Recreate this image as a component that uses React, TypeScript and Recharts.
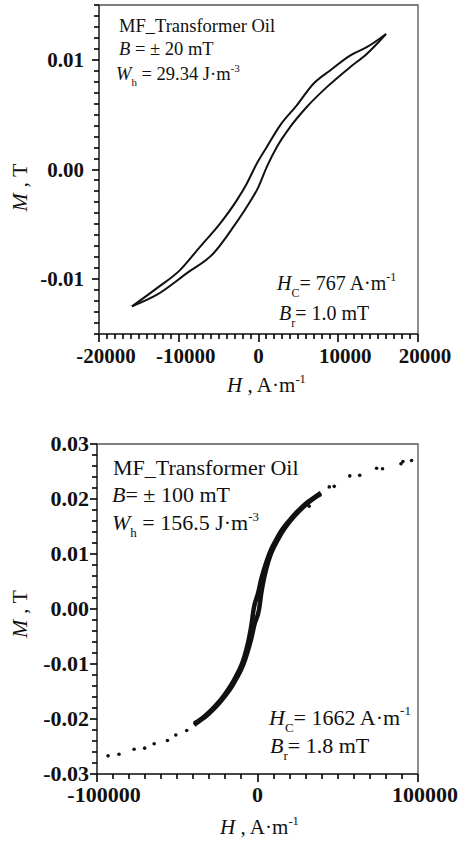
import React from "react";
import { ComposedChart, Line, Scatter, XAxis, YAxis, ReferenceArea, Label } from "recharts";

const SERIF = '"Liberation Serif", "Times New Roman", serif';
const INK = "#111";
const AXIS = "#333";

// upper panel, B = ±20 mT
const topDescending = [
  { h: 15990, m: 0.01236 },
  { h: 13570, m: 0.01115 },
  { h: 11480, m: 0.01039 },
  { h: 8980, m: 0.00903 },
  { h: 6890, m: 0.00782 },
  { h: 4800, m: 0.00585 },
  { h: 2710, m: 0.00403 },
  { h: 1040, m: 0.00206 },
  { h: -210, m: 0.00055 },
  { h: -1460, m: -0.00127 },
  { h: -2710, m: -0.00279 },
  { h: -4800, m: -0.00491 },
  { h: -7310, m: -0.00703 },
  { h: -9810, m: -0.00915 },
  { h: -12730, m: -0.01082 },
  { h: -15870, m: -0.01248 },
];
const topAscending = [
  { h: -15870, m: -0.01248 },
  { h: -12730, m: -0.01142 },
  { h: -8980, m: -0.00945 },
  { h: -5640, m: -0.00764 },
  { h: -3130, m: -0.00521 },
  { h: -1460, m: -0.00339 },
  { h: 0, m: -0.00158 },
  { h: 1040, m: 0.00024 },
  { h: 2300, m: 0.00206 },
  { h: 3970, m: 0.00388 },
  { h: 6050, m: 0.0057 },
  { h: 8560, m: 0.00751 },
  { h: 11480, m: 0.00933 },
  { h: 13570, m: 0.01054 },
  { h: 15990, m: 0.01236 },
];

// lower panel, B = ±100 mT
const bottomDescending = [
  { h: 39500, m: 0.0211 },
  { h: 35500, m: 0.0203 },
  { h: 31500, m: 0.0195 },
  { h: 27200, m: 0.0184 },
  { h: 23100, m: 0.0172 },
  { h: 19000, m: 0.0158 },
  { h: 14400, m: 0.014 },
  { h: 11300, m: 0.0124 },
  { h: 8800, m: 0.011 },
  { h: 6800, m: 0.0096 },
  { h: 4700, m: 0.0078 },
  { h: 2400, m: 0.0055 },
  { h: 300, m: 0.0028 },
  { h: -2400, m: 0 },
  { h: -3700, m: -0.0028 },
  { h: -5400, m: -0.0055 },
  { h: -7300, m: -0.0078 },
  { h: -9200, m: -0.0096 },
  { h: -11200, m: -0.011 },
  { h: -13700, m: -0.0124 },
  { h: -16800, m: -0.014 },
  { h: -21000, m: -0.0158 },
  { h: -24900, m: -0.0172 },
  { h: -28800, m: -0.0184 },
  { h: -32900, m: -0.0195 },
  { h: -36500, m: -0.0203 },
  { h: -39500, m: -0.0208 },
];
const bottomAscending = [
  { h: -39500, m: -0.0211 },
  { h: -35900, m: -0.0203 },
  { h: -32100, m: -0.0195 },
  { h: -28000, m: -0.0184 },
  { h: -24100, m: -0.0172 },
  { h: -20200, m: -0.0158 },
  { h: -15800, m: -0.014 },
  { h: -12700, m: -0.0124 },
  { h: -10200, m: -0.011 },
  { h: -8200, m: -0.0096 },
  { h: -6200, m: -0.0078 },
  { h: -4000, m: -0.0055 },
  { h: -1900, m: -0.0028 },
  { h: 1000, m: 0 },
  { h: 2300, m: 0.0028 },
  { h: 4000, m: 0.0055 },
  { h: 5900, m: 0.0078 },
  { h: 7800, m: 0.0096 },
  { h: 9800, m: 0.011 },
  { h: 12300, m: 0.0124 },
  { h: 15400, m: 0.014 },
  { h: 19800, m: 0.0158 },
  { h: 23900, m: 0.0172 },
  { h: 28000, m: 0.0184 },
  { h: 32300, m: 0.0195 },
  { h: 36000, m: 0.0203 },
  { h: 39500, m: 0.0209 },
];
const bottomSparse = [
  { h: -93100, m: -0.0267 },
  { h: -86300, m: -0.0264 },
  { h: -76900, m: -0.0255 },
  { h: -70300, m: -0.0253 },
  { h: -64400, m: -0.0245 },
  { h: -56100, m: -0.0239 },
  { h: -50900, m: -0.0229 },
  { h: -44100, m: -0.0221 },
  { h: 32200, m: 0.0187 },
  { h: 44700, m: 0.0222 },
  { h: 47800, m: 0.0223 },
  { h: 57500, m: 0.0242 },
  { h: 63700, m: 0.0243 },
  { h: 74200, m: 0.0256 },
  { h: 77900, m: 0.0255 },
  { h: 89400, m: 0.0264 },
  { h: 90600, m: 0.0268 },
  { h: 96000, m: 0.027 },
];

const topXMajor = [-20000, -10000, 0, 10000, 20000];
const topYMajor = [-0.01, 0, 0.01];
const bottomXMajor = [-100000, 0, 100000];
const bottomYMajor = [-0.03, -0.02, -0.01, 0, 0.01, 0.02, 0.03];

// minor tick positions
const steps = (from: number, to: number, step: number) => {
  const out: number[] = [];
  const n = Math.round((to - from) / step);
  for (let i = 0; i <= n; i++) out.push(Math.round((from + i * step) * 1e6) / 1e6);
  return out;
};

const isMajor = (list: number[], v: number) => list.some((m) => Math.abs(m - v) < 1e-9);

// tick marks: short for minor, long + label for major
const xTick = (majors: number[], fontSize: number, gap: number) => (props: any) => {
  const { x, y, payload } = props;
  const v = payload.value;
  const major = isMajor(majors, v);
  const mark = <path d={`M${Math.round(x)},${y}v${major ? 8 : 5}`} stroke="#000" strokeWidth={1.6} fill="none" />;
  if (!major) return mark;
  return (
    <g>
      {mark}
      <text x={x + (v === 0 ? 0 : 7)} y={y + gap} textAnchor="middle" fontFamily={SERIF} fontWeight="bold" fontSize={fontSize} fill={INK}>
        {String(v)}
      </text>
    </g>
  );
};

const yTick = (majors: number[], fontSize: number, gap: number) => (props: any) => {
  const { x, y, payload } = props;
  const v = payload.value;
  const major = isMajor(majors, v);
  const mark = <path d={`M${x},${Math.round(y)}h${major ? -7 : -5}`} stroke="#000" strokeWidth={1.6} fill="none" />;
  if (!major) return mark;
  return (
    <g>
      {mark}
      <text x={x - gap} y={y + 7} textAnchor="end" fontFamily={SERIF} fontWeight="bold" fontSize={fontSize} fill={INK}>
        {v.toFixed(2)}
      </text>
    </g>
  );
};

const HTitle = ({ viewBox, dx, dy, size }: any) => (
  <text x={viewBox.x + viewBox.width / 2 + dx} y={viewBox.y + dy} textAnchor="middle" fontFamily={SERIF} fontSize={size} fill={INK}>
    <tspan fontStyle="italic">H</tspan> , A·m
    <tspan fontSize={size * 0.6} dy={-9}>-1</tspan>
  </text>
);

const MTitle = ({ viewBox, dy, size }: any) => (
  <text
    transform={`translate(27,${viewBox.y + viewBox.height / 2 + dy}) rotate(-90)`}
    textAnchor="middle"
    fontFamily={SERIF}
    fontSize={size}
    fill={INK}
  >
    <tspan fontStyle="italic">M</tspan> , T
  </text>
);

const dot = (p: any) => <circle cx={p.cx} cy={p.cy} r={1.8} fill={INK} />;

function TopPanel() {
  return (
    <div style={{ position: "relative", width: 461, height: 400 }}>
      <ComposedChart width={461} height={400} margin={{ top: 5, right: 43, bottom: 0, left: 0 }}>
        <XAxis
          type="number"
          dataKey="h"
          domain={[-20000, 20000]}
          ticks={steps(-20000, 20000, 1000)}
          interval={0}
          allowDataOverflow
          height={66}
          tickSize={0}
          tickMargin={0}
          tickLine={false}
          axisLine={{ stroke: AXIS, strokeWidth: 1.3 }}
          tick={xTick(topXMajor, 21, 29)}
        >
          <Label content={(p: any) => <HTitle {...p} dx={8} dy={58} size={21} />} />
        </XAxis>
        <YAxis
          type="number"
          dataKey="m"
          domain={[-0.015, 0.015]}
          ticks={steps(-0.015, 0.015, 0.001)}
          interval={0}
          allowDataOverflow
          width={99}
          tickSize={0}
          tickMargin={0}
          tickLine={false}
          axisLine={{ stroke: AXIS, strokeWidth: 1.3 }}
          tick={yTick(topYMajor, 21, 15)}
        >
          <Label content={(p: any) => <MTitle {...p} dy={18} size={22} />} />
        </YAxis>
        <ReferenceArea x1={-20000} x2={20000} y1={-0.015} y2={0.015} fill="none" stroke="#555" strokeWidth={1.3} />
        <Line data={topDescending} dataKey="m" type="monotone" stroke={INK} strokeWidth={2} dot={false} isAnimationActive={false} />
        <Line data={topAscending} dataKey="m" type="monotone" stroke={INK} strokeWidth={2} dot={false} isAnimationActive={false} />
      </ComposedChart>
      <svg width={461} height={400} style={{ position: "absolute", left: 0, top: 0, pointerEvents: "none" }} fontFamily={SERIF} fill={INK}>
        <text x={119} y={32} fontSize={18.5}>MF_Transformer Oil</text>
        <text x={119} y={55} fontSize={18.5}>
          <tspan fontStyle="italic">B</tspan> = ± 20 mT
        </text>
        <text x={116} y={80} fontSize={18.5}>
          <tspan fontStyle="italic">W</tspan>
          <tspan fontSize={11} dy={6}>h</tspan>
          <tspan dy={-6}> = 29.34 J·m</tspan>
          <tspan fontSize={11} dy={-8}>-3</tspan>
        </text>
        <text x={277} y={290} fontSize={20}>
          <tspan fontStyle="italic">H</tspan>
          <tspan fontSize={12} dy={7}>C</tspan>
          <tspan dy={-7}>= 767 A·m</tspan>
          <tspan fontSize={12} dy={-9}>-1</tspan>
        </text>
        <text x={279} y={320} fontSize={20}>
          <tspan fontStyle="italic">B</tspan>
          <tspan fontSize={12} dy={7}>r</tspan>
          <tspan dy={-7}>= 1.0 mT</tspan>
        </text>
      </svg>
    </div>
  );
}

function BottomPanel() {
  return (
    <div style={{ position: "relative", width: 461, height: 441 }}>
      <ComposedChart width={461} height={441} margin={{ top: 44, right: 43, bottom: 0, left: 0 }}>
        <XAxis
          type="number"
          dataKey="h"
          domain={[-100000, 100000]}
          ticks={steps(-100000, 100000, 10000)}
          interval={0}
          allowDataOverflow
          height={67}
          tickSize={0}
          tickMargin={0}
          tickLine={false}
          axisLine={{ stroke: AXIS, strokeWidth: 1.3 }}
          tick={xTick(bottomXMajor, 22, 28)}
        >
          <Label content={(p: any) => <HTitle {...p} dx={2} dy={60} size={21} />} />
        </XAxis>
        <YAxis
          type="number"
          dataKey="m"
          domain={[-0.03, 0.03]}
          ticks={steps(-0.03, 0.03, 0.002)}
          interval={0}
          allowDataOverflow
          width={97}
          tickSize={0}
          tickMargin={0}
          tickLine={false}
          axisLine={{ stroke: AXIS, strokeWidth: 1.3 }}
          tick={yTick(bottomYMajor, 22, 8)}
        >
          <Label content={(p: any) => <MTitle {...p} dy={5} size={22} />} />
        </YAxis>
        <ReferenceArea x1={-100000} x2={100000} y1={-0.03} y2={0.03} fill="none" stroke="#555" strokeWidth={1.3} />
        <Line data={bottomDescending} dataKey="m" type="monotone" stroke={INK} strokeWidth={4.5} dot={false} isAnimationActive={false} />
        <Line data={bottomAscending} dataKey="m" type="monotone" stroke={INK} strokeWidth={4.5} dot={false} isAnimationActive={false} />
        <Scatter data={bottomSparse} dataKey="m" fill={INK} shape={dot} isAnimationActive={false} />
      </ComposedChart>
      <svg width={461} height={441} style={{ position: "absolute", left: 0, top: 0, pointerEvents: "none" }} fontFamily={SERIF} fill={INK}>
        <text x={113} y={75} fontSize={22}>MF_Transformer Oil</text>
        <text x={112} y={102} fontSize={22}>
          <tspan fontStyle="italic">B</tspan>= ± 100 mT
        </text>
        <text x={112} y={130} fontSize={22}>
          <tspan fontStyle="italic">W</tspan>
          <tspan fontSize={13} dy={7}>h</tspan>
          <tspan dy={-7}> = 156.5 J·m</tspan>
          <tspan fontSize={13} dy={-9}>-3</tspan>
        </text>
        <text x={269} y={325} fontSize={22}>
          <tspan fontStyle="italic">H</tspan>
          <tspan fontSize={13} dy={7}>C</tspan>
          <tspan dy={-7}>= 1662 A·m</tspan>
          <tspan fontSize={13} dy={-10}>-1</tspan>
        </text>
        <text x={270} y={353} fontSize={22}>
          <tspan fontStyle="italic">B</tspan>
          <tspan fontSize={13} dy={7}>r</tspan>
          <tspan dy={-7}>= 1.8 mT</tspan>
        </text>
      </svg>
    </div>
  );
}

export default function App() {
  return (
    <div style={{ position: "absolute", left: 0, top: 0, width: 461, height: 841, background: "#fff" }}>
      <TopPanel />
      <BottomPanel />
    </div>
  );
}
